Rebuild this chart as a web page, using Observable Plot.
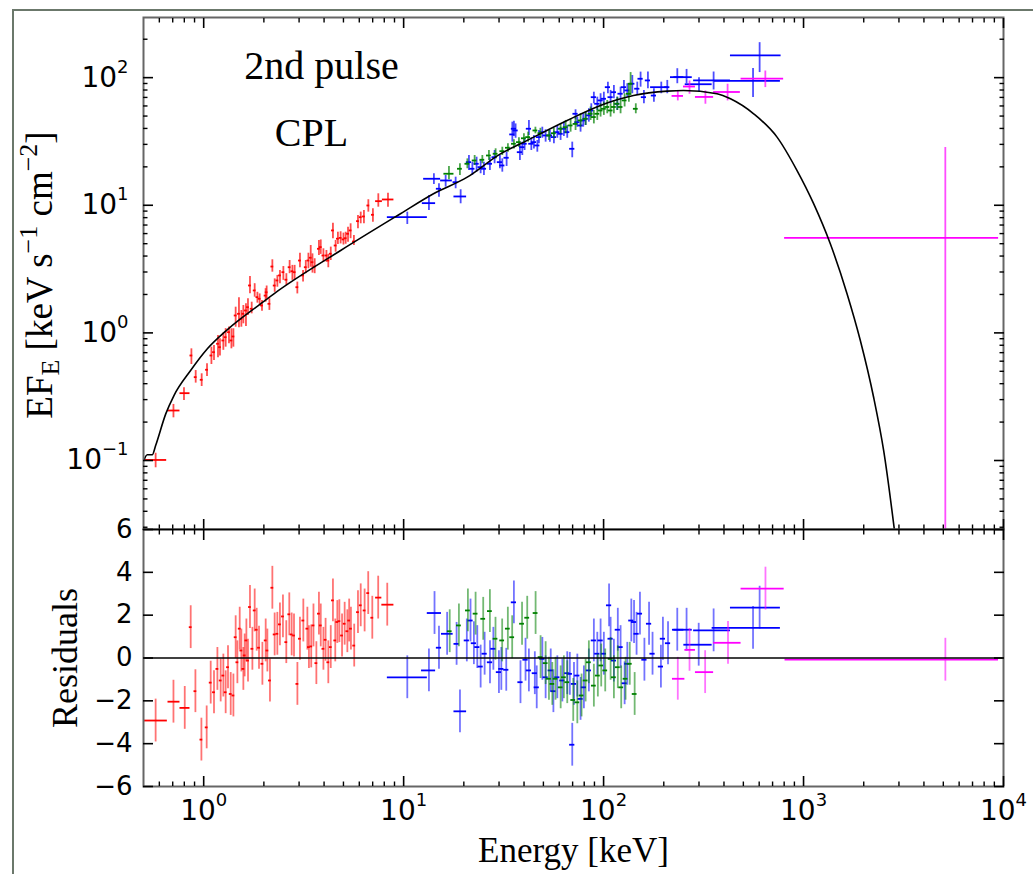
<!DOCTYPE html>
<html><head><meta charset="utf-8">
<script src="https://cdn.jsdelivr.net/npm/d3@7"></script>
<script src="https://cdn.jsdelivr.net/npm/@observablehq/plot@0.6"></script>
<style>
html,body{margin:0;padding:0;background:#fff;}
#wrap{position:relative;width:1033px;height:874px;overflow:hidden;background:#fff;}
#wrap svg{position:absolute;left:0;}
#border{position:absolute;left:12px;top:9px;width:1100px;height:900px;border-left:2.5px solid #6b786b;border-top:2.5px solid #6b786b;pointer-events:none;}
</style></head><body><div id="wrap"></div><script>
// ---------- data (E [keV], EF_E, lower, upper, optional E_lo, E_hi) ----------
const redTop = [
[0.575,0.101,0.0877,0.114,0.507,0.653],[0.706,0.2465,0.216,0.275,0.663,0.761],[0.797,0.337,0.295,0.371,0.761,0.854],
[0.868,0.665,0.565,0.750],[0.912,0.450,0.404,0.507],[0.977,0.429,0.380,0.478],[1.039,0.514,0.455,0.573],
[1.093,0.665,0.565,0.773],[1.126,0.706,0.607,0.797],[1.179,0.822,0.638,0.954],[1.206,0.773,0.66,0.90],
[1.254,0.872,0.73,1.0],[1.288,0.925,0.773,1.08],[1.338,1.013,0.822,1.11],[1.376,0.872,0.75,1.077],
[1.408,0.937,0.773,1.077],[1.445,1.369,1.108,1.590],[1.501,1.411,1.096,1.884],[1.543,1.290,1.108,1.498],
[1.579,1.411,1.178,1.64],[1.627,1.498,1.12,1.69],[1.665,1.590,1.37,1.85],[1.704,2.352,2.025,2.77],
[1.738,1.545,1.41,1.74],[1.799,2.15,1.905,2.43],[1.856,1.905,1.71,2.08],[1.905,1.85,1.64,2.02],
[1.957,1.64,1.48,1.79],[2.04,1.96,1.74,2.22],[2.065,2.08,1.85,2.33],[2.131,1.69,1.50,1.85],
[2.205,3.31,2.99,3.74],[2.265,2.35,2.08,2.65],[2.336,2.575,2.28,2.82],[2.407,2.82,2.43,3.08],
[2.503,2.99,2.58,3.31],[2.591,2.61,2.35,2.91],[2.69,3.27,2.91,3.69],[2.777,3.04,2.58,3.38],
[2.85,2.99,2.58,3.38],[2.94,2.28,2.02,2.50],[3.03,3.69,3.24,4.21],[3.14,2.82,2.50,3.08],
[3.24,3.27,2.91,3.69],[3.34,3.69,3.18,4.21],[3.43,3.88,3.27,4.84],[3.50,3.58,2.94,4.16],
[3.59,3.31,2.91,3.81],[3.77,4.56,4.04,5.30],[3.85,4.70,4.12,5.35],[3.97,4.04,3.58,4.56],
[4.11,4.04,3.58,4.42],[4.20,3.69,3.24,4.12],[4.32,4.17,3.69,4.70],[4.43,6.35,5.47,7.24],
[4.57,4.84,4.29,5.30],[4.69,5.47,4.93,6.15],[4.84,5.55,4.98,6.2],[5.00,5.40,4.88,6.05],
[5.13,5.52,4.95,6.15],[5.27,5.98,5.13,6.74],[5.43,6.35,5.47,7.16],[5.64,5.20,4.84,5.80],
[5.91,7.51,6.54,8.32],[6.10,8.07,7.16,8.84],[6.33,8.17,7.16,9.10],[6.66,9.96,8.83,11.05],
[7.02,8.42,7.37,9.38],[7.47,10.77,9.66,12.30,7.24,7.83],[8.35,11.10,9.66,12.44,7.83,8.94]
];
const blueTop = [
[10.43,8.07,7.07,8.83,8.29,13.14],[13.38,10.39,9.10,11.94,12.40,14.45],[14.17,16.13,14.55,17.66,12.59,15.31],
[15.02,13.47,11.58,14.74],[16.22,15.64,13.86,17.12,15.31,17.52],[18.20,15.17,13.47,16.6],
[19.28,11.72,10.27,13.23,17.85,20.65],[21.21,21.77,18.74,24.55],[22.06,19.32,17.12,21.77],
[23.17,21.14,18.17,23.8],[24.27,19.89,17.66,22.44],[25.21,19.32,17.12,21.77],[27.01,21.14,18.74,23.56],
[28.51,23.8,21.14,26.87],[30.30,21.77,19.32,24.55],[31.15,20.5,18.17,23.1],[32.73,23.56,20.14,26.06],
[34.96,35.9,31.23,44.8],[35.61,39.78,34.6,45.6],[36.3,38.55,33.5,43.4],[38.15,26.06,22.44,29.42],
[39.22,28.52,24.55,31.23],[40.27,30.34,26.87,33.5],[42.32,39.78,35.24,46.2],[43.51,30.34,26.87,33.8],
[44.83,31.23,27.64,35.24],[46.62,29.42,26.06,32.2],[47.49,34.2,30.34,38.55],[49.38,37.4,33.5,40.9],
[51.29,35.24,31.23,39.05],[53.89,35.24,31.23,38.55],[56.43,34.2,30.34,38.1],[58.68,37.4,33.5,42.2],
[60.95,36.3,32.2,40.9],[63.3,39.78,34.6,44.8],[65.8,37.4,33.5,42.2],[69.7,27.7,23.56,31.23],
[72.4,52.1,46.8,56.0],[73.9,44.8,40.9,49.1],[76.7,42.2,37.4,46.2],[79.1,46.2,40.9,52.1],
[81.3,47.6,42.2,53.6],[84.4,50.6,44.8,57.1],[86.8,55.3,49.1,62.4],[89.4,70.3,62.4,76.9],
[93.0,62.4,55.3,70.3],[96.6,66.3,58.9,74.8],[100.3,68.3,60.7,76.9],[105.1,84.2,74.8,92.2],
[108.4,70.3,62.4,79.4],[112.6,76.9,68.3,86.9],[117.1,62.4,55.3,70.3],[121.6,74.8,66.3,84.2],
[126.4,84.2,74.8,95.1],[131.4,79.4,70.3,89.6],[139.2,89.6,74.8,104],[147.4,81.9,72.4,92.2],
[153.1,98,84.2,110.5],[159.1,70.3,62.4,79.4],[166.6,95.1,81.9,110.5],[178.5,72.4,64.2,81.9],
[194.3,84.2,74.8,92.2,171.8,211.3],[208.2,84.2,74.8,95.1],[233.7,100.9,89.6,117.5,216,252],
[260,100.9,89.6,116,224.7,277.6],[300,88.8,76.4,100,256,349],[355,95.3,80.1,110.7,282,431],
[559,94.2,69.9,117.7,358,766],[603,149.5,109.6,188,431,772]
];
const greenTop = [
[16.85,17.66,15.85,20.14,15.9,17.85],[19.12,19.32,17.12,21.14],[20.83,21.14,19.32,23.1],
[22.65,22.44,20.5,24.55],[24.75,22.73,21.14,24.55],[26.7,24.55,22.44,26.87],[28.84,25.33,23.1,27.7],
[31.15,26.55,24.55,28.5],[33.23,28.22,26.06,30.34],[35.61,30.34,27.64,32.6],[37.72,31.23,28.5,33.8],
[39.95,33.5,30.34,36.3],[41.94,34.2,31.23,37.4],[45.6,38.55,36.3,40.9],[48.3,36.7,33.9,40.1],
[53.3,35.24,32.2,38.55],[56.4,36.7,33.5,40.1],[60.95,39.78,36.3,43.4],[64.6,40.9,36.3,46.2],
[68.4,42.2,37.4,47.6],[72.4,43.4,38.55,49.1],[76.7,46.2,40.9,52.1],[81.3,47.6,42.2,53.6],
[86.1,52.1,46.2,58.9],[89.4,49.1,43.4,55.3],[93.0,52.1,46.2,58.9],[96.6,55.3,49.1,62.4],
[100.3,57.0,50.6,64.2],[104.3,58.9,52.1,66.3],[108.4,55.3,49.1,62.4],[112.6,58.9,52.1,66.3],
[117.1,62.4,55.3,70.3],[121.6,58.9,52.1,66.3],[127.4,66.3,58.9,74.8],[133.8,74.8,64.2,89.6],
[136.5,89.6,72.4,109.6],[144.9,57.0,52.1,62.4]
];
const magentaTop = [
[235,71.9,65.7,78.7,220,251],[269,85.2,74.1,94.2,251,288],[323,70.6,61.9,78.7,288,355],
[417,77.2,65.7,88.8,355,483],[644,98.4,83.6,112.7,487,795],[5117,5.56,0.001,28.4,804,9451]
];
// CPL model curve (E, EF_E)
const modelE = [0.502,0.522,0.553,0.575,0.646,0.71,0.86,1.043,1.31,1.925,2.245,4.84,9.64,14.1,20.8,30.5,38.4,65.7,96.4,141,208,251,369,431,563,737,928,1123,1361,1650,1923,2241,2515,2911];
const modelF = [0.100,0.111,0.111,0.131,0.232,0.323,0.507,0.750,1.057,1.69,2.025,4.42,8.58,12.3,16.6,25.3,30.3,46.2,60.6,72.4,78.4,79.4,74.8,68.3,52.1,34.2,18.7,10.3,4.99,2.03,0.872,0.313,0.120,0.0216];

// residuals (E, residual, optional E_lo, E_hi); error bars are +-1
const redRes = [
[0.575,-2.92,0.50,0.658],[0.706,-2.04,0.663,0.761],[0.804,-2.33,0.761,0.854],[0.861,1.44],[0.909,-1.55],
[0.974,-3.81],[1.035,-3.24],[1.084,-1.15],[1.126,-1.6],[1.171,-0.51],[1.216,-1.05],[1.254,-0.82],
[1.288,-1.6],[1.323,-0.43],[1.365,-1.68],[1.408,-1.75],[1.445,0.97],[1.474,-0.2],[1.514,1.37],
[1.543,0.35],[1.579,-0.51],[1.603,0.12],[1.635,0.82],[1.666,-0.12],[1.704,2.38],[1.752,0.43],
[1.799,2.22],[1.841,1.32],[1.891,0.48],[1.966,-0.27],[2.042,0.82],[2.082,0.35],[2.145,-1.05],
[2.205,3.28],[2.264,1.1],[2.335,1.13],[2.406,1.57],[2.491,1.94],[2.589,0.74],[2.680,2.04],
[2.754,1.1],[2.829,1.05],[2.942,-1.21],[3.03,0.9],[3.15,1.75],[3.30,1.37],[3.36,0.51],[3.45,0.54],
[3.54,1.52],[3.66,-0.24],[3.77,2.07],[3.85,1.52],[3.97,0.43],[4.07,0.85],[4.20,-0.2],[4.32,0.51],
[4.43,2.69],[4.55,0.82],[4.66,1.68],[4.77,1.72],[4.92,1.05],[5.07,1.6],[5.23,1.25],[5.34,1.75],
[5.45,1.37],[5.66,0.58],[5.91,2.14],[6.10,2.46],[6.38,2.22],[6.65,3.03],[6.97,1.88],
[7.46,2.82,7.24,7.78],[8.28,2.49,7.78,8.94]
];
const blueRes = [
[10.43,-0.9,8.29,13.14],[13.38,-0.58,12.29,14.45],[14.27,2.10,13.13,15.46],[15.02,0.48],
[16.5,1.13,15.46,17.68],[18.4,0.66],[19.13,-2.49,17.85,20.65],[20.7,0.82],[21.6,1.75],[22.45,0.69],
[23.35,0.51],[24.27,-0.4],[25.41,0.2],[27.03,-0.2],[28.1,0.43],[29.96,-0.66],[30.8,-0.51],[32.6,-0.55],
[35.6,2.6],[38.4,-1.13],[40.7,-0.08],[42.3,-0.58],[45.3,-0.71],[46.3,-1.37],[49.4,-0.04],[51.3,-0.9],
[54.4,-0.58],[56.1,-1.55],[58.7,-0.9],[62.2,-1.05],[65.8,-0.71],[67.8,-0.74],[69.7,-4.05],[71.1,-1.21],
[73.9,-0.82],[76.7,-1.91],[79.7,-1.37],[84.4,-0.58],[89.4,0.82],[93,0.2],[96.6,0.82],[100.3,0.2],
[106.5,2.46],[108.4,0.9],[112.6,-0.12],[117.8,1.32],[121.6,0.51],[127.4,-1.18],[131.4,-0.27],
[137.6,1.75],[142,1.68],[146.2,1.13],[152,2.07],[160,-0.08],[168.8,1.6],[175.7,0.2],[193.5,-0.4],
[198,0.9],[210,0.69],[233.6,1.32,221,252],[260,1.32,224.7,277.6],[299,0.62,252,349],
[355,1.29,282,431],[559,1.41,349,766],[603,2.35,431,766]
];
const greenRes = [
[17.0,1.25],[18.9,1.52],[20.96,2.22],[22.9,2.07],[25.0,1.83],[27.0,2.19],[28.8,0.9],[31.1,0.82],
[33.2,1.37],[34.9,0.97],[39.1,1.6],[41.5,1.88],[45.7,2.10],[48.4,0.04],[51.3,-0.24],[53.3,-0.97],
[55.4,-1.21],[57.5,-0.97],[61.0,-1.37],[63.3,-0.9],[65.8,-1.13],[70.5,-1.96],[73.9,-2.07],[77.6,-1.75],
[81.3,-1.05],[84.4,-0.2],[89.4,-1.29],[93.6,-0.82],[97.3,-0.35],[101.9,-0.58],[108.4,-0.04],
[112.6,-0.9],[117.8,-0.43],[122.5,-1.37],[128.8,-0.97],[135.2,-0.27],[143,-1.68]
];
const magentaRes = [
[235,-0.97,221,255],[269,0.38,255,288],[322,-0.66,288,355],[419,0.71,355,487],[645,3.24,487,800],
[5120,-0.08,808,9440]
];
const RES_ERR = 1;

// tick values
const xMajorTicks = [1, 10, 100, 1000, 10000];
const yMajorTicks = [0.1, 1, 10, 100];
const resTicks = [-6, -4, -2, 0, 2, 4, 6];
const xMinorTicks = [], yMinorTicks = [];
for (const p of [-1, 0, 1, 2, 3]) for (let m = 2; m <= 9; m++) {
  const v = m * 10 ** p;
  if (v > 0.5 && v < 10000) xMinorTicks.push(+v.toPrecision(3));
}
for (const p of [-2, -1, 0, 1, 2]) for (let m = 2; m <= 9; m++) {
  const v = m * 10 ** p;
  if (v > 0.0288 && v < 296) yMinorTicks.push(+v.toPrecision(3));
}

const series = [
  {color: "#ff0000", top: redTop, res: redRes, half: 0.007},
  {color: "#0000ff", top: blueTop, res: blueRes, half: 0.013},
  {color: "#008000", top: greenTop, res: greenRes, half: 0.012},
  {color: "#ff00ff", top: magentaTop, res: magentaRes, half: 0.01}
];
const topRows = s => s.top.map(d => ({E: d[0], F: d[1], lo: d[2], hi: d[3],
  Elo: d[4] ?? d[0] / 10 ** s.half, Ehi: d[5] ?? d[0] * 10 ** s.half}));
const resRows = s => s.res.map(d => ({E: d[0], R: d[1], lo: d[1] - RES_ERR, hi: d[1] + RES_ERR,
  Elo: d[2] ?? d[0] / 10 ** s.half, Ehi: d[3] ?? d[0] * 10 ** s.half}));
const modelRows = modelE.map((e, i) => ({E: e, F: modelF[i]}));

const powFmt = d => "10^" + Math.round(Math.log10(d));
const minusFmt = d => d < 0 ? "\u2212" + (-d) : String(d);
const SPINE = "#666";
const serif = "Liberation Serif, Times New Roman, serif";

function tickAxes(axis, anchor, major, minor) {
  const out = [axis({ticks: major, anchor, tickSize: -10, fill: "none", strokeWidth: 1.6, label: null})];
  if (minor) out.push(axis({ticks: minor, anchor, tickSize: -4.5, fill: "none", strokeWidth: 1.4, label: null}));
  return out;
}

const E_DOMAIN = [0.5, 10000];
const topPlot = Plot.plot({
  width: 1033, height: 530,
  marginLeft: 143, marginRight: 30, marginTop: 17, marginBottom: 1,
  style: {background: "transparent", fontFamily: "DejaVu Sans, sans-serif", color: "black"},
  x: {type: "log", domain: E_DOMAIN, axis: null},
  y: {type: "log", domain: [0.0288, 296], axis: null},
  marks: [
    ...series.flatMap(s => {
      const rows = topRows(s);
      return [
        Plot.ruleX(rows, {x: "E", y1: "lo", y2: "hi", stroke: s.color, strokeWidth: 1.8, strokeOpacity: 0.7, clip: true}),
        Plot.ruleY(rows, {y: "F", x1: "Elo", x2: "Ehi", stroke: s.color, strokeWidth: 1.8, clip: true})
      ];
    }),
    Plot.line(modelRows, {x: "E", y: "F", stroke: "black", strokeWidth: 1.6, curve: "monotone-x", clip: true}),
    Plot.frame({stroke: SPINE, strokeWidth: 2}),
    ...tickAxes(Plot.axisX, "bottom", xMajorTicks, xMinorTicks),
    ...tickAxes(Plot.axisX, "top", xMajorTicks, xMinorTicks),
    ...tickAxes(Plot.axisY, "left", yMajorTicks, yMinorTicks),
    ...tickAxes(Plot.axisY, "right", yMajorTicks, yMinorTicks),
    Plot.axisY({ticks: yMajorTicks, anchor: "left", tickSize: 0, tickPadding: 15, tickFormat: powFmt, fontSize: 28, label: null}),
    Plot.text(["2nd pulse"], {frameAnchor: "top-left", dx: 178, dy: 61, lineAnchor: "bottom", textAnchor: "middle", fontFamily: serif, fontSize: 40, fill: "black"}),
    Plot.text(["CPL"], {frameAnchor: "top-left", dx: 168, dy: 128, lineAnchor: "bottom", textAnchor: "middle", fontFamily: serif, fontSize: 40, fill: "black"})
  ]
});

const botPlot = Plot.plot({
  width: 1033, height: 364,
  marginLeft: 143, marginRight: 30, marginTop: 19, marginBottom: 88,
  style: {background: "transparent", fontFamily: "DejaVu Sans, sans-serif", color: "black"},
  x: {type: "log", domain: E_DOMAIN, axis: null},
  y: {domain: [-6, 6], axis: null},
  marks: [
    ...series.flatMap(s => {
      const rows = resRows(s);
      return [
        Plot.ruleX(rows, {x: "E", y1: "lo", y2: "hi", stroke: s.color, strokeWidth: 1.8, strokeOpacity: 0.55, clip: true}),
        Plot.ruleY(rows, {y: "R", x1: "Elo", x2: "Ehi", stroke: s.color, strokeWidth: 1.8, clip: true})
      ];
    }),
    Plot.ruleY([0], {stroke: "black", strokeWidth: 1.6}),
    Plot.frame({stroke: SPINE, strokeWidth: 2}),
    Plot.frame({anchor: "top", stroke: "black", strokeWidth: 1.6}),
    ...tickAxes(Plot.axisX, "bottom", xMajorTicks, xMinorTicks),
    ...tickAxes(Plot.axisX, "top", xMajorTicks, xMinorTicks),
    ...tickAxes(Plot.axisY, "left", resTicks, null),
    ...tickAxes(Plot.axisY, "right", resTicks, null),
    Plot.axisY({ticks: resTicks, anchor: "left", tickSize: 0, tickPadding: 11, tickFormat: minusFmt, fontSize: 26, label: null}),
    Plot.axisX({ticks: xMajorTicks, anchor: "bottom", tickSize: 0, tickPadding: 14, tickFormat: powFmt, fontSize: 28, label: null}),
    Plot.text(["Energy [keV]"], {frameAnchor: "bottom", dy: 75, lineAnchor: "bottom", textAnchor: "middle", fontFamily: serif, fontSize: 35, fill: "black"}),
    Plot.text(["Residuals"], {frameAnchor: "left", dx: -67, rotate: -90, lineAnchor: "bottom", textAnchor: "middle", fontFamily: serif, fontSize: 36, fill: "black"})
  ]
});

// turn "10^n" tick labels into 10 with a raised exponent
function superscripts(svg) {
  d3.select(svg).selectAll("text").each(function () {
    const m = /^10\^(-?\d+)$/.exec(this.textContent);
    if (!m) return;
    const sel = d3.select(this);
    sel.text("10");
    sel.append("tspan").attr("font-size", 18).attr("dy", -14).text(m[1].replace("-", "\u2212"));
  });
}
superscripts(topPlot);
superscripts(botPlot);

// y-axis title with sub/superscripts
const yl = d3.select(topPlot).append("text")
  .attr("transform", "translate(52,275) rotate(-90)")
  .attr("text-anchor", "middle").attr("font-family", serif).attr("font-size", 37).attr("fill", "black");
yl.append("tspan").text("EF");
yl.append("tspan").attr("font-size", 26).attr("dy", 7).text("E");
yl.append("tspan").attr("dy", -7).text(" [keV s");
yl.append("tspan").attr("font-size", 26).attr("dy", -15).text("\u22121");
yl.append("tspan").attr("dy", 15).text(" cm");
yl.append("tspan").attr("font-size", 26).attr("dy", -15).text("\u22122");
yl.append("tspan").attr("dy", 15).text("]");

const wrap = document.getElementById("wrap");
topPlot.style.top = "0px";
botPlot.style.top = "510px";
wrap.appendChild(topPlot);
wrap.appendChild(botPlot);
const border = document.createElement("div");
border.id = "border";
wrap.appendChild(border);
</script></body></html>
